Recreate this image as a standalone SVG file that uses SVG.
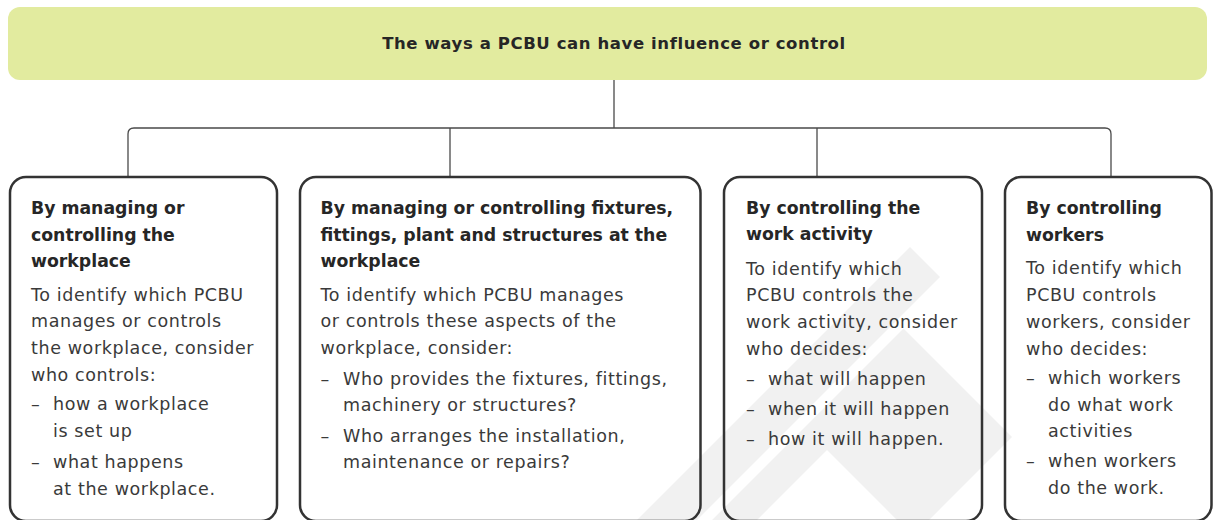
<svg xmlns="http://www.w3.org/2000/svg" width="1214" height="520" viewBox="0 0 1214 520">
<style>
.wm{fill:#f1f1f1;stroke:none}
.box{fill:none;stroke:#333333;stroke-width:2.5}
.conn{fill:none;stroke:#4a4a4a;stroke-width:1.3}
.title{font-family:"DejaVu Sans",sans-serif;font-weight:bold;font-size:16.5px;letter-spacing:0.6px;fill:#262626}
.h{font-family:"DejaVu Sans",sans-serif;font-weight:bold;font-size:17.3px;fill:#262626}
.b{font-family:"DejaVu Sans",sans-serif;font-size:17.5px;letter-spacing:0.6px;fill:#3a3a3a}
</style>
<rect width="1214" height="520" fill="#ffffff"/>
<g id="watermark">
<polygon class="wm" points="637,520 910,247 940,277 697,520"/>
<polygon class="wm" points="903.5,328.5 1012,437 929,520 897,520 827,450 757,520 712,520"/>
</g>
<g id="title">
<rect x="8" y="7" width="1199" height="73" rx="12" fill="#e2eb9f"/>
<text class="title" x="614" y="49" text-anchor="middle">The ways a PCBU can have influence or control</text>
</g>
<g id="connectors">
<path class="conn" d="M614,80 V128"/>
<path class="conn" d="M128,177 V134 Q128,128 134,128 H1105 Q1111,128 1111,134 V177"/>
<path class="conn" d="M450,128 V177"/>
<path class="conn" d="M817,128 V177"/>
</g>
<g id="box1">
<rect class="box" x="10" y="177" width="267" height="344" rx="16"/>
<text class="h" x="31" y="214">By managing or</text>
<text class="h" x="31" y="240.5">controlling the</text>
<text class="h" x="31" y="267">workplace</text>
<text class="b" x="31" y="300.5">To identify which PCBU</text>
<text class="b" x="31" y="327">manages or controls</text>
<text class="b" x="31" y="354">the workplace, consider</text>
<text class="b" x="31" y="381">who controls:</text>
<text class="b" x="31" y="410">–</text>
<text class="b" x="53" y="410">how a workplace</text>
<text class="b" x="53" y="437">is set up</text>
<text class="b" x="31" y="468">–</text>
<text class="b" x="53" y="468">what happens</text>
<text class="b" x="53" y="495">at the workplace.</text>
</g>
<g id="box2">
<rect class="box" x="300" y="177" width="400.5" height="344" rx="16"/>
<text class="h" x="320.5" y="213.5">By managing or controlling fixtures,</text>
<text class="h" x="320.5" y="240.5">fittings, plant and structures at the</text>
<text class="h" x="320.5" y="267">workplace</text>
<text class="b" x="320.5" y="300.5">To identify which PCBU manages</text>
<text class="b" x="320.5" y="327">or controls these aspects of the</text>
<text class="b" x="320.5" y="354">workplace, consider:</text>
<text class="b" x="320.5" y="385">–</text>
<text class="b" x="343" y="385">Who provides the fixtures, fittings,</text>
<text class="b" x="343" y="411">machinery or structures?</text>
<text class="b" x="320.5" y="442">–</text>
<text class="b" x="343" y="442">Who arranges the installation,</text>
<text class="b" x="343" y="468">maintenance or repairs?</text>
</g>
<g id="box3">
<rect class="box" x="724" y="177" width="258" height="344" rx="16"/>
<text class="h" x="746" y="214">By controlling the</text>
<text class="h" x="746" y="240">work activity</text>
<text class="b" x="746" y="274.5">To identify which</text>
<text class="b" x="746" y="301">PCBU controls the</text>
<text class="b" x="746" y="328">work activity, consider</text>
<text class="b" x="746" y="354.5">who decides:</text>
<text class="b" x="746" y="385">–</text>
<text class="b" x="768" y="385">what will happen</text>
<text class="b" x="746" y="415">–</text>
<text class="b" x="768" y="415">when it will happen</text>
<text class="b" x="746" y="445">–</text>
<text class="b" x="768" y="445">how it will happen.</text>
</g>
<g id="box4">
<rect class="box" x="1005" y="177" width="206.5" height="344" rx="16"/>
<text class="h" x="1026" y="214">By controlling</text>
<text class="h" x="1026" y="240.5">workers</text>
<text class="b" x="1026" y="274">To identify which</text>
<text class="b" x="1026" y="301">PCBU controls</text>
<text class="b" x="1026" y="328">workers, consider</text>
<text class="b" x="1026" y="355">who decides:</text>
<text class="b" x="1026" y="384">–</text>
<text class="b" x="1048" y="384">which workers</text>
<text class="b" x="1048" y="410.5">do what work</text>
<text class="b" x="1048" y="437">activities</text>
<text class="b" x="1026" y="467">–</text>
<text class="b" x="1048" y="467">when workers</text>
<text class="b" x="1048" y="494">do the work.</text>
</g>
</svg>
